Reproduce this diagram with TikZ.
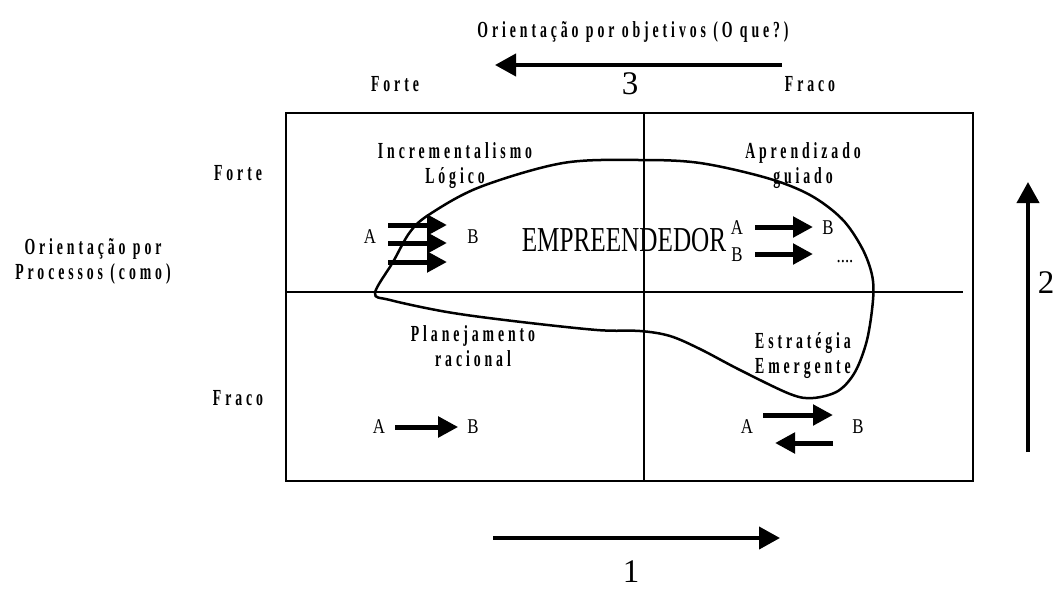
\documentclass[tikz,border=0pt]{standalone}
\usepackage{fontspec}
\setmainfont{Liberation Serif}
\newfontfamily\axisfont[FakeStretch=0.6,LetterSpace=17]{Liberation Serif}
\newfontfamily\bigfont[FakeStretch=0.72]{Liberation Serif}
\newfontfamily\letterfont[FakeStretch=0.8]{Liberation Serif}
\usetikzlibrary{arrows.meta,positioning}

\tikzset{
  lbl/.style={font=\axisfont\bfseries\fontsize{23}{25}\selectfont,align=center,inner sep=0pt},
  letter/.style={font=\letterfont\fontsize{21}{24}\selectfont,inner sep=0pt},
  digit/.style={font=\fontsize{33}{36}\selectfont,inner sep=0pt},
  axisarrow/.style={line width=4pt,-{Triangle[length=21pt,width=22pt]}},
  smallarrow/.style={line width=5pt,-{Triangle[length=20pt,width=20pt]}},
}

\begin{document}
\begin{tikzpicture}[x=1pt,y=-1pt]
\useasboundingbox (0,0) rectangle (1056,592);

%Frame and quadrants
\draw[line width=2.8pt] (286,113) rectangle (973,481);
\coordinate (vt) at (644,113);
\coordinate (vb) at (644,481);
\coordinate (hl) at (286,292);
\coordinate (hr) at (963,292);
\draw[line width=2.2pt] (vt) -- (vb);
\draw[line width=2.2pt] (hl) -- (hr);

%Entrepreneur region
\draw[line width=2.5pt] plot[smooth cycle,tension=0.55] coordinates {
  (375,293) (393,262) (410,232) (430,214) (480,187) (563,163) (640,160)
  (700,163) (767,178) (810,195) (842,219) (862,248) (872,275) (873,300)
  (867,340) (855,372) (838,391) (813,398) (790,394) (740,370) (700,349)
  (670,336) (640,331) (597,330) (513,321) (447,312) (390,300)};
\node[font=\bigfont\fontsize{35}{38}\selectfont,inner sep=0pt] (emp) at (624,240) {EMPREENDEDOR};

%Axis 3 (top)
\node[lbl] (objetivos) at (633,32) {Orientação por objetivos (O que?)};
\coordinate (a3s) at (782,65);
\coordinate (a3e) at (495,65);
\draw[axisarrow] (a3s) -- (a3e);
\node[digit] (n3) at (630,84) {3};
\node[lbl] (topforte) at (395,84) {Forte};
\node[lbl] (topfraco) at (810,84) {Fraco};

%Axis 2 (right)
\coordinate (a2s) at (1028,452);
\coordinate (a2e) at (1028,182);
\draw[axisarrow] (a2s) -- (a2e);
\node[digit] (n2) at (1046,283) {2};

%Axis 1 (bottom)
\coordinate (a1s) at (493,538);
\coordinate (a1e) at (780,538);
\draw[axisarrow] (a1s) -- (a1e);
\node[digit] (n1) at (631,572) {1};

%Left labels
\node[lbl] (processos) at (93,261) {Orientação por\\Processos (como)};
\node[lbl] (leftforte) at (238,173) {Forte};
\node[lbl] (leftfraco) at (238,398) {Fraco};

%Quadrant titles
\node[lbl] (incr) at (455,166) {Incrementalismo\\Lógico};
\node[lbl] (aprend) at (803,166) {Aprendizado\\guiado};
\node[lbl] (plan) at (473,346) {Planejamento\\racional};
\node[lbl] (estr) at (803,356) {Estratégia\\Emergente};

%Incrementalismo: A => B
\node[letter] (ia) at (370,237) {A};
\node[letter] (ib) at (473,237) {B};
\foreach \i/\y in {1/225,2/243,3/262}{
  \coordinate (il\i) at (388,\y);
  \coordinate (ir\i) at (447,\y);
  \draw[smallarrow] (il\i) -- (ir\i);
}

%Aprendizado: A -> B, B -> ...
\node[letter] (aa) at (737,228) {A};
\node[letter] (ab) at (828,228) {B};
\node[letter] (ab2) at (737,255) {B};
\node[letter,anchor=base] (adots) at (845,262) {....};
\coordinate (al1) at (755,227);
\coordinate (ar1) at (813,227);
\coordinate (al2) at (755,254);
\coordinate (ar2) at (813,254);
\draw[smallarrow] (al1) -- (ar1);
\draw[smallarrow] (al2) -- (ar2);

%Planejamento: A -> B
\node[letter] (pa) at (379,427) {A};
\node[letter] (pb) at (473,427) {B};
\draw[smallarrow,shorten <=10pt,shorten >=9pt] (pa) -- (pb);

%Emergente: A <-> B
\node[letter] (ea) at (747,427) {A};
\node[letter] (eb) at (858,427) {B};
\coordinate (el1) at (763,415);
\coordinate (er1) at (833,415);
\coordinate (er2) at (833,443);
\coordinate (el2) at (775,443);
\draw[smallarrow] (el1) -- (er1);
\draw[smallarrow] (er2) -- (el2);
\end{tikzpicture}
\end{document}
